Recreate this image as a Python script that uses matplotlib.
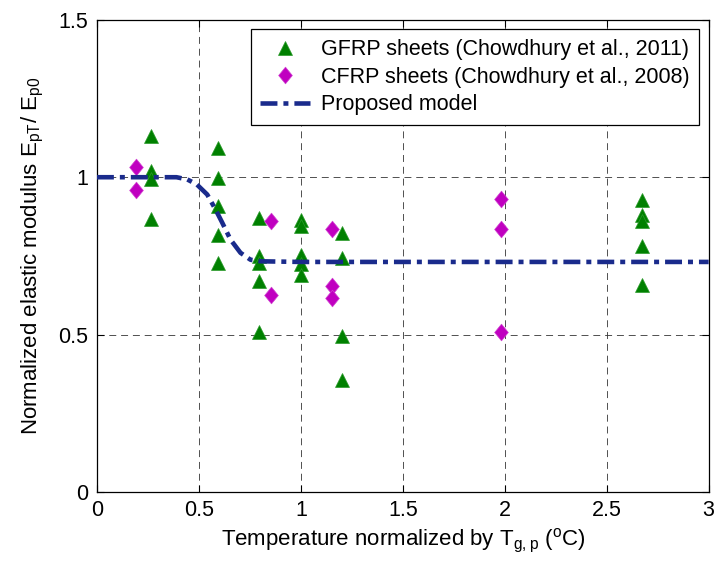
import matplotlib
matplotlib.use("Agg")
import matplotlib.pyplot as plt
from matplotlib.path import Path

plt.rcParams['font.family'] = ['Liberation Sans', 'DejaVu Sans']
plt.rcParams['mathtext.fontset'] = 'custom'
plt.rcParams['mathtext.rm'] = 'Liberation Sans'
plt.rcParams['lines.scale_dashes'] = False

# GFRP sheets (Chowdhury et al., 2011)
gfrp_x = [0.263, 0.263, 0.263, 0.263,
          0.595, 0.595, 0.595, 0.595, 0.595,
          0.796, 0.796, 0.796, 0.796, 0.796,
          1.0, 1.0, 1.0, 1.0, 1.0,
          1.2, 1.2, 1.2, 1.2,
          2.673, 2.673, 2.673, 2.673, 2.673]
gfrp_y = [1.13, 1.019, 0.993, 0.866,
          1.093, 0.998, 0.908, 0.815, 0.728,
          0.869, 0.751, 0.729, 0.669, 0.507,
          0.863, 0.844, 0.754, 0.726, 0.689,
          0.823, 0.744, 0.495, 0.357,
          0.927, 0.879, 0.86, 0.783, 0.659]

# CFRP sheets (Chowdhury et al., 2008)
cfrp_x = [0.19, 0.19, 0.852, 0.852, 1.151, 1.151, 1.151, 1.984, 1.984, 1.984]
cfrp_y = [1.032, 0.959, 0.86, 0.627, 0.834, 0.656, 0.617, 0.932, 0.837, 0.509]

# Proposed model
model_x = [0.0, 0.39, 0.443, 0.49, 0.541, 0.582, 0.615, 0.655, 0.704, 0.753, 0.803, 1.0, 3.0]
model_y = [1.0, 1.0, 0.993, 0.977, 0.945, 0.897, 0.855, 0.802, 0.76, 0.738, 0.733, 0.731, 0.731]

xticks = [0, 0.5, 1, 1.5, 2, 2.5, 3]
xticklabels = ['0', '0.5', '1', '1.5', '2', '2.5', '3']
yticks = [0, 0.5, 1, 1.5]
yticklabels = ['0', '0.5', '1', '1.5']

fig = plt.figure(figsize=(7.18, 5.65), dpi=100)
ax = fig.add_axes([0.135, 0.129, 0.852, 0.836])

diamond = Path([(0, 1), (0.82, 0), (0, -1), (-0.82, 0), (0, 1)],
               [Path.MOVETO, Path.LINETO, Path.LINETO, Path.LINETO, Path.CLOSEPOLY])

ax.plot(gfrp_x, gfrp_y, linestyle='none', marker='^', ms=10.5, color='#008000',
        mec='#2a9a2a', mew=0.5, label='GFRP sheets (Chowdhury et al., 2011)', zorder=3)
ax.plot(cfrp_x, cfrp_y, linestyle='none', marker=diamond, ms=12, color='#c000c0',
        mec='#d040d0', mew=0.5, label='CFRP sheets (Chowdhury et al., 2008)', zorder=3)
ax.plot(model_x, model_y, color='#1a2b8c', lw=3.3, linestyle=(0, (12.2, 4.3, 3.6, 4.3)),
        label='Proposed model', zorder=4)

ax.set_xlim(0, 3)
ax.set_ylim(0, 1.5)
ax.set_xticks(xticks)
ax.set_xticklabels(xticklabels)
ax.set_yticks(yticks)
ax.set_yticklabels(yticklabels)
ax.tick_params(direction='in', top=True, right=True, labelsize=15.5, length=5, width=0.8, pad=6)
ax.grid(True, color='#333333', linestyle=(0, (5, 3.5)), linewidth=0.6)
for s in ax.spines.values():
    s.set_linewidth(0.9)

ax.set_xlabel(r'Temperature normalized by T$_{\mathregular{g,p}}$ ($^{\mathregular{o}}$C)', fontsize=16, labelpad=4)
ax.set_ylabel(r'Normalized elastic modulus E$_{\mathregular{pT}}$/ E$_{\mathregular{p0}}$', fontsize=16, labelpad=9)

leg = ax.legend(loc='upper right', fontsize=15.5, fancybox=False, framealpha=1,
                edgecolor='black', borderpad=0.45, labelspacing=0.3, handlelength=2.3,
                handletextpad=0.5, borderaxespad=0.45)
leg.get_frame().set_linewidth(0.9)

fig.savefig('out.png', dpi=100)
